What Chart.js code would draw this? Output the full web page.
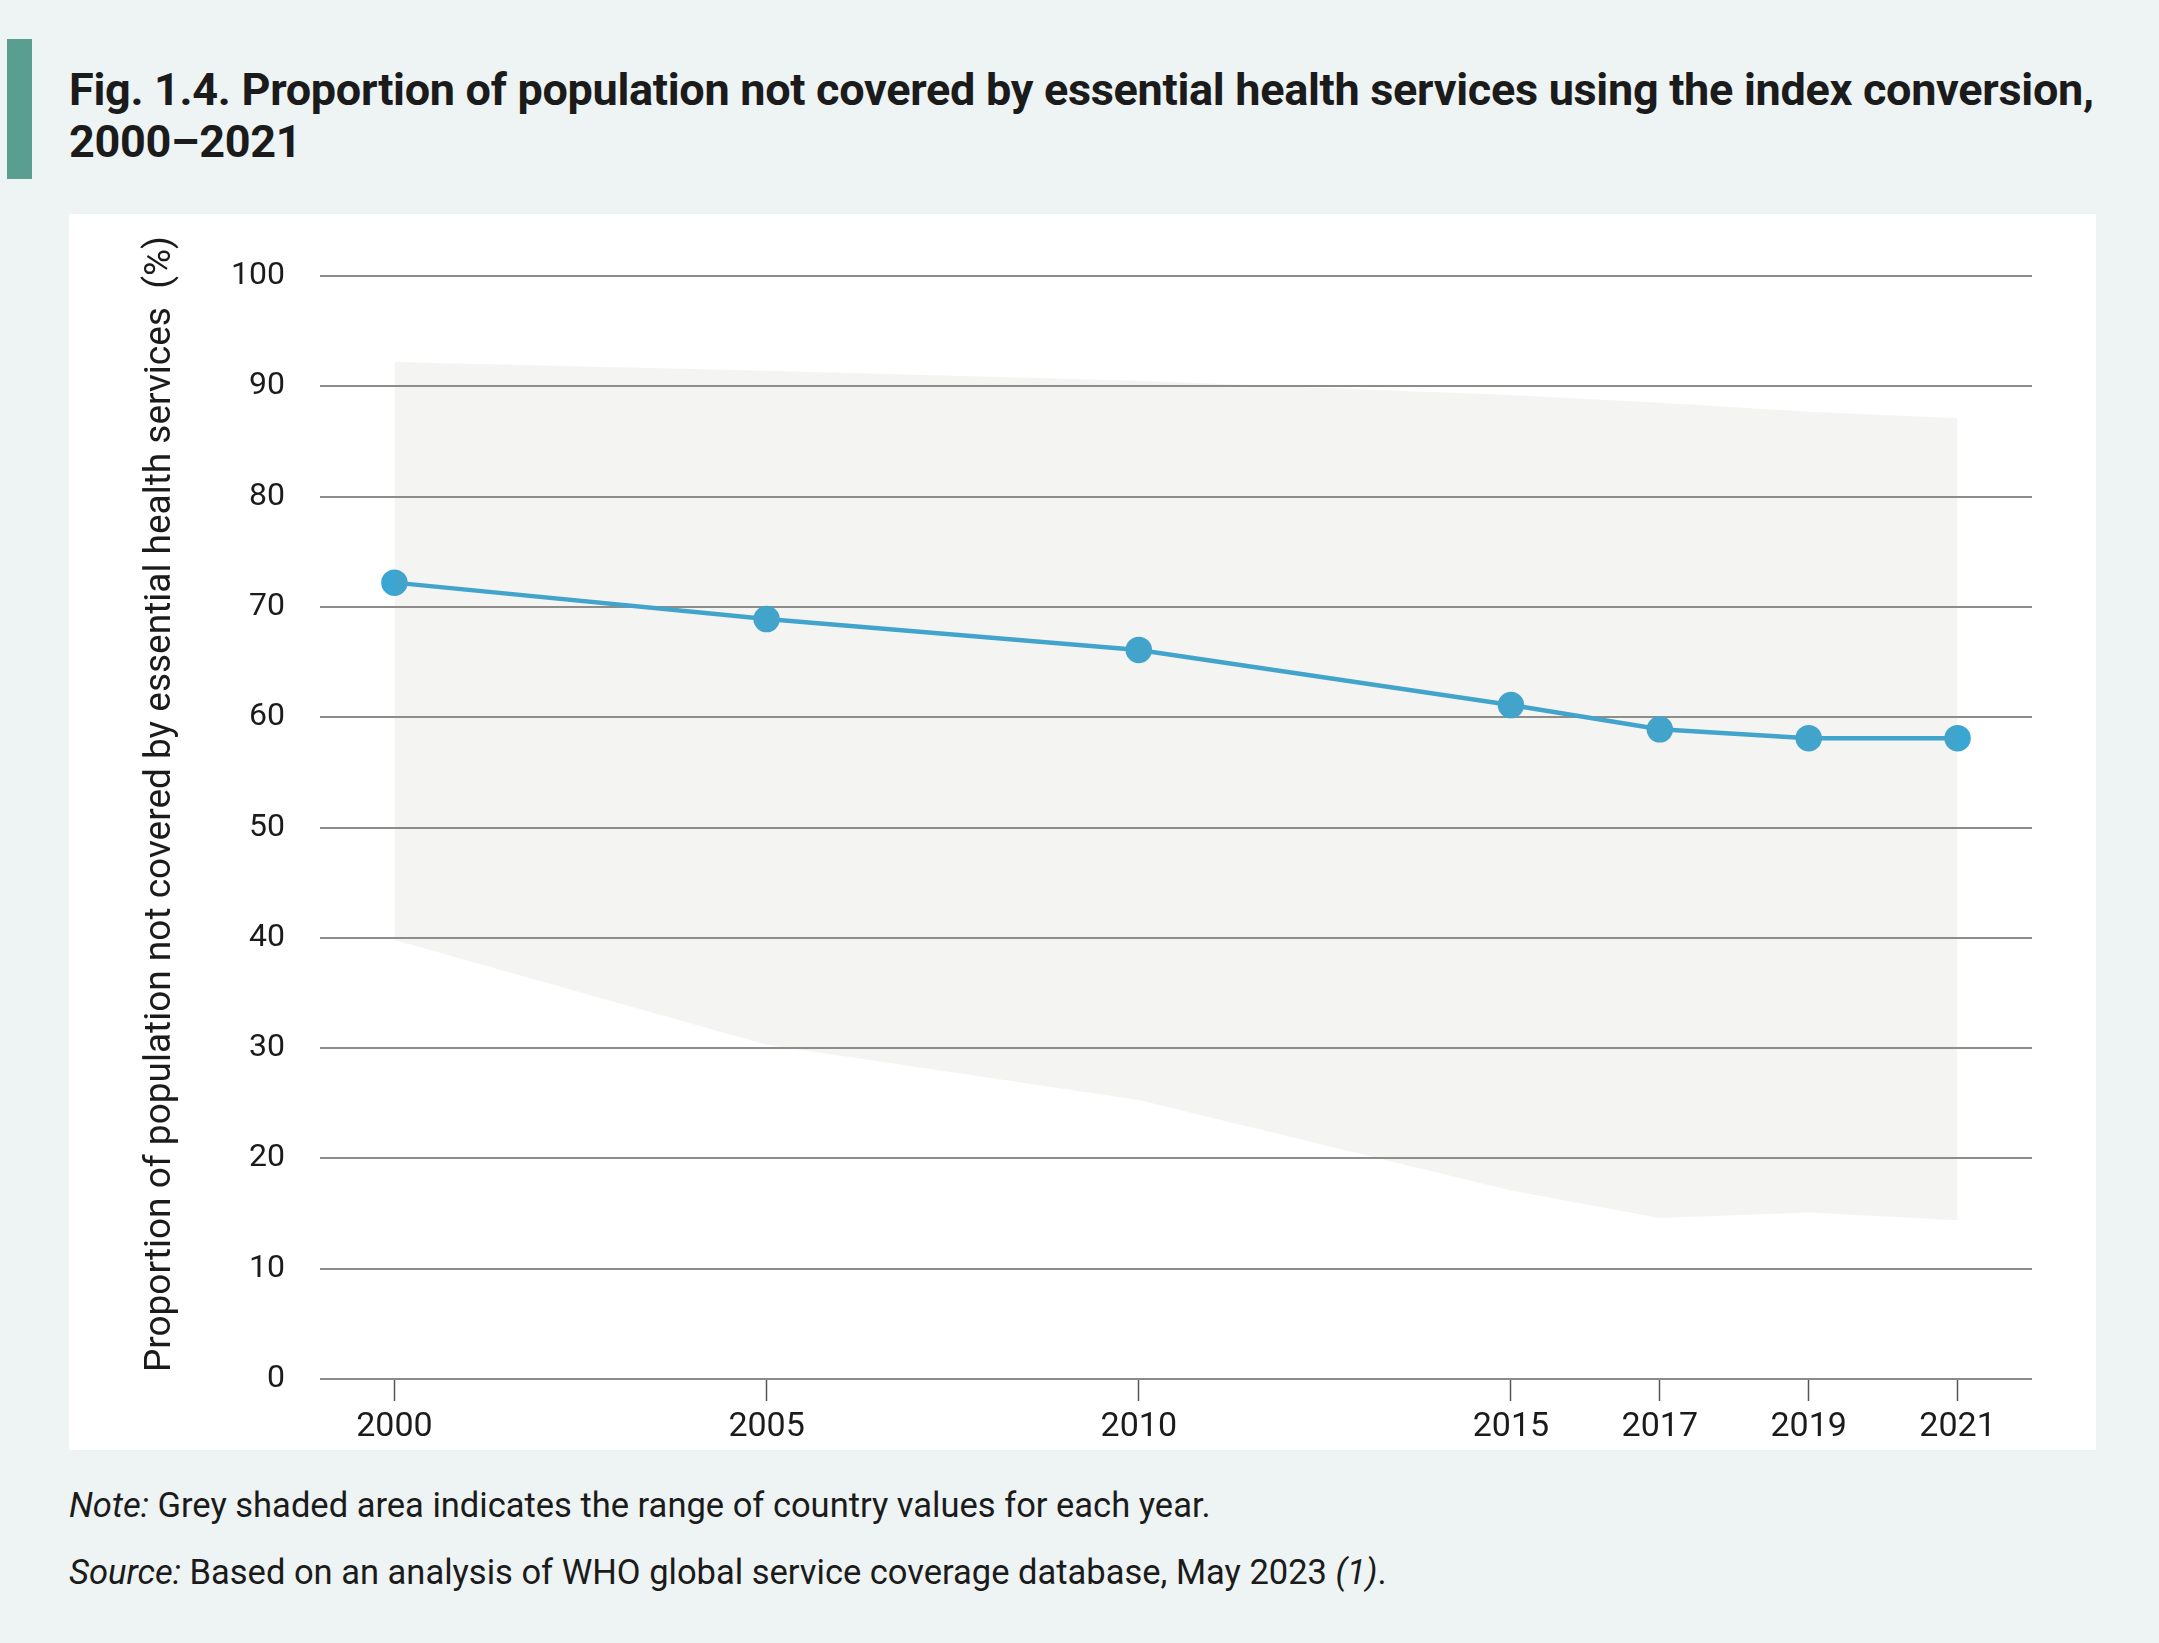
<!DOCTYPE html>
<html>
<head>
<meta charset="utf-8">
<script src="https://cdn.jsdelivr.net/npm/chart.js@4.4.1/dist/chart.umd.min.js"></script>
<style>
  html, body { margin: 0; padding: 0; }
  body { width: 2159px; height: 1643px; background: #eef3f3; position: relative; overflow: hidden; font-family: Roboto, "Noto Sans", sans-serif; color: #1b1b1b; }
  #bar { position: absolute; left: 7px; top: 39px; width: 25px; height: 140px; background: #5a9e92; }
  #title { position: absolute; left: 69px; top: 64px; font-weight: bold; font-size: 45px; line-height: 52px; letter-spacing: -0.3px; white-space: nowrap; }
  #panel { position: absolute; left: 69px; top: 214px; width: 2027px; height: 1236px; background: #fff; }
  .note { position: absolute; left: 69px; font-size: 34.5px; white-space: nowrap; }
</style>
</head>
<body>
<div id="bar"></div>
<div id="title">Fig. 1.4. Proportion of population not covered by essential health services using the index conversion,<br>2000–2021</div>
<div id="panel"><canvas id="myChart" width="2027" height="1236"></canvas></div>
<div class="note" style="top:1485px"><i>Note:</i> Grey shaded area indicates the range of country values for each year.</div>
<div class="note" style="top:1552px"><i>Source:</i> Based on an analysis of WHO global service coverage database, May 2023 <i>(1)</i>.</div>
<script>
// years shown on the x axis
const years = [2000, 2005, 2010, 2015, 2017, 2019, 2021];
// proportion not covered (%)
const notCovered = [72.2, 68.9, 66.1, 61.1, 58.9, 58.1, 58.1];
// range of country values
const rangeLow = [39.8, 30.3, 25.3, 17.1, 14.6, 15.1, 14.4];
const rangeHigh = [92.2, 91.4, 90.5, 89.2, 88.5, 87.7, 87.1];
const yTicks = [0, 10, 20, 30, 40, 50, 60, 70, 80, 90, 100];

const pts = arr => years.map((yr, i) => ({ x: yr, y: arr[i] }));

new Chart("myChart", {
    type: "line",
    data: {
        datasets: [
            {
                data: pts(rangeLow),
                borderWidth: 0,
                borderColor: "rgba(0,0,0,0)",
                pointRadius: 0,
                fill: false
            },
            {
                data: pts(rangeHigh),
                borderWidth: 0,
                borderColor: "rgba(0,0,0,0)",
                backgroundColor: "rgba(150,150,130,0.105)",
                pointRadius: 0,
                fill: "-1"
            },
            {
                data: pts(notCovered),
                borderColor: "#3aa6d4",
                backgroundColor: "#3aa6d4",
                borderWidth: 4.5,
                pointRadius: 11,
                pointHoverRadius: 11,
                fill: false
            }
        ]
    },
    options: {
        responsive: false,
        animation: false,
        events: [],
        layout: { padding: { top: 62, right: 64, left: 0, bottom: 0 } },
        plugins: {
            legend: { display: false },
            tooltip: { enabled: false }
        },
        scales: {
            x: {
                type: "linear",
                min: 1999,
                max: 2022,
                afterBuildTicks: scale => { scale.ticks = years.map(v => ({ value: v })); },
                afterFit: scale => { scale.height = 71; },
                border: { display: false },
                grid: {
                    drawOnChartArea: false,
                    drawTicks: true,
                    tickLength: 22,
                    tickColor: "#555",
                    tickWidth: 1.5
                },
                ticks: {
                    padding: 6,
                    color: "#1b1b1b",
                    font: { family: "Roboto", size: 34 },
                    callback: v => String(v)
                }
            },
            y: {
                min: 0,
                max: 100,
                afterBuildTicks: scale => { scale.ticks = yTicks.map(v => ({ value: v })); },
                afterFit: scale => { scale.width = 251; },
                border: { display: false },
                grid: {
                    color: "#8c8c8c",
                    lineWidth: 2,
                    drawTicks: false
                },
                ticks: {
                    padding: 35,
                    color: "#1b1b1b",
                    font: { family: "Roboto", size: 32 }
                },
                title: {
                    display: true,
                    // leading spaces nudge the centred title up a little
                    text: "\u2003 Proportion of population not covered by essential health services  (%)",
                    color: "#1b1b1b",
                    font: { family: "Roboto", size: 37 },
                    padding: { top: 70, bottom: 0 }
                }
            }
        }
    }
});
</script>
</body>
</html>
